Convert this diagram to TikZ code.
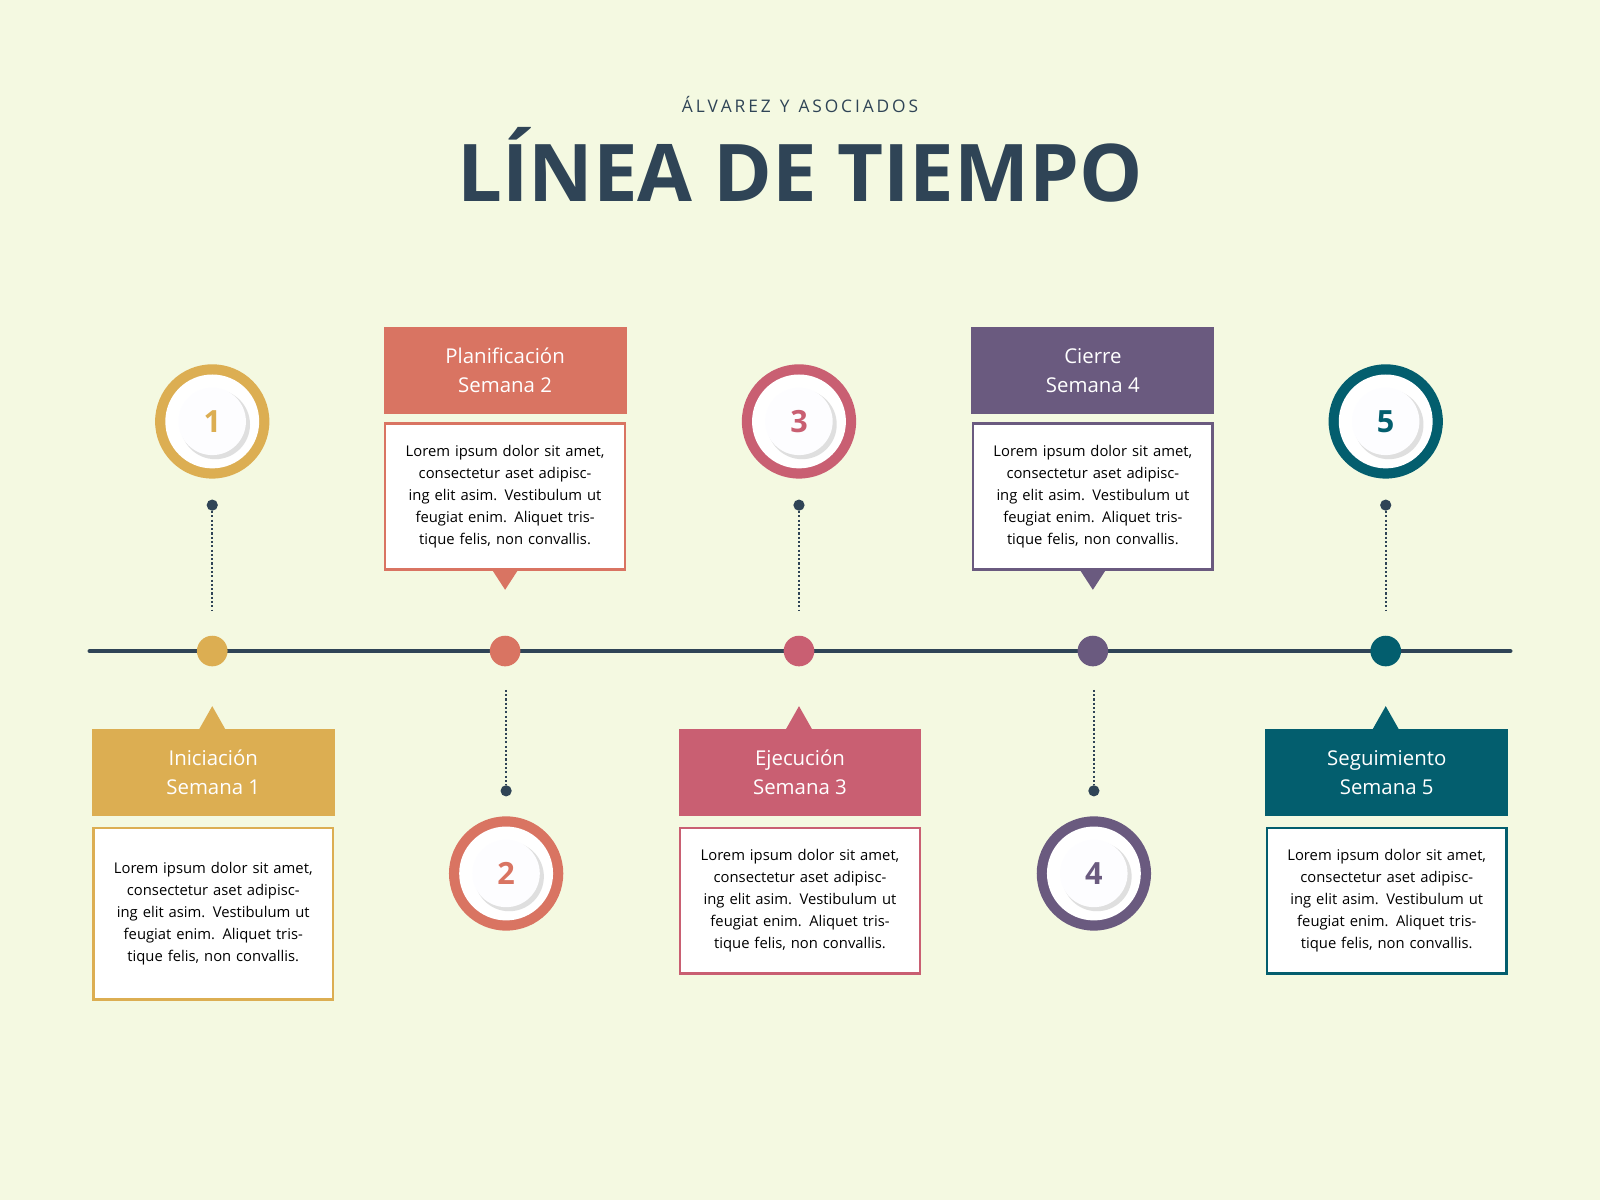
\documentclass[tikz,border=0pt]{standalone}
\usepackage{fontspec}
\setmainfont{Open Sans}
\begin{document}
\definecolor{bg}{HTML}{F4F9E1}
\definecolor{navy}{HTML}{2F4456}
\definecolor{cA}{HTML}{DCAE52}
\definecolor{cB}{HTML}{D97462}
\definecolor{cC}{HTML}{C95F72}
\definecolor{cD}{HTML}{6A5A7F}
\definecolor{cE}{HTML}{035E6E}
\begin{tikzpicture}[x=1pt,y=-1pt,
 hdr/.style={minimum width=238pt,minimum height=86pt,inner sep=0pt,text=white,align=center,font=\fontsize{20}{28}\selectfont},
 body/.style={draw=#1,line width=2.5pt,fill=white,minimum width=235pt,inner sep=0pt,align=center,font=\fontsize{14.5}{21.5}\selectfont,text width=225pt},
 tdot/.style={circle,fill=#1,minimum size=30pt,inner sep=0pt},
 sdot/.style={circle,fill=navy,minimum size=11pt,inner sep=0pt},
 conn/.style={navy,line width=2.2pt,dotted}]
\fill[bg] (0,0) rectangle (1568,1176);
\useasboundingbox (0,0) rectangle (1568,1176);
\node[font=\fontsize{17}{20}\selectfont,text=navy] (sub) at (784,102) {Á\,L\,V\,A\,R\,E\,Z\ \ Y\ \ A\,S\,O\,C\,I\,A\,D\,O\,S};
\node[font=\bfseries\fontsize{78}{80}\selectfont,text=navy] (title) at (784,162) {LÍNEA DE TIEMPO};
\coordinate (L) at (88,638); \coordinate (R) at (1480,638);
\draw[navy,line width=4.5pt,line cap=round] (L) -- (R);
\newcommand\lorem{Lorem ipsum dolor sit amet, consectetur aset adipiscing elit asim. Vestibulum ut feugiat enim. Aliquet tristique felis, non convallis.}
\newcommand\medal[4]{% name,x,y,color,num
 \fill[#3] (#1) circle (56);
 \fill[white] (#1) circle (46);
 \fill[gray!25] ($(#1)+(3,3)$) circle (34);
 \fill[white!90!blue!8] (#1) circle (33);
 \node[font=\bfseries\fontsize{30}{30}\selectfont,text=#3] at (#1) {#4};}
\usetikzlibrary{calc}
% columns
\foreach \x/\c/\n/\t/\h in {208/cA/1/Iniciación/168,783/cC/3/Ejecución/143,1358/cE/5/Seguimiento/143}{
 \coordinate (m\n) at (\x,413);
 \medal{m\n}{}{\c}{\n}
 \node[sdot] (s\n) at (\x,495) {};
 \coordinate (e\n) at (\x,598);
 \draw[conn] (s\n) -- (e\n);
 \node[tdot=\c] (d\n) at (\x,638) {};
 \fill[\c] (\x-13,715) -- (\x,692) -- (\x+13,715) -- cycle;
 \node[hdr,fill=\c] (h\n) at (\x+1,757) {\t\\Semana \n};
 \node[body=\c,minimum height=\h pt,anchor=north] (b\n) at (\x+1,810) {\lorem};
}
\foreach \x/\c/\n/\t in {495/cB/2/Planificación,1071/cD/4/Cierre}{
 \node[hdr,fill=\c] (h\n) at (\x,363) {\t\\Semana \n};
 \node[body=\c,minimum height=143pt,anchor=north] (b\n) at (\x,414) {\lorem};
 \fill[\c] (\x-13,558) -- (\x,578) -- (\x+13,558) -- cycle;
 \node[tdot=\c] (d\n) at (\x,638) {};
 \coordinate (e\n) at (\x+1,676);
 \node[sdot] (s\n) at (\x+1,775) {};
 \draw[conn] (e\n) -- (s\n);
 \coordinate (m\n) at (\x+1,856);
 \medal{m\n}{}{\c}{\n}
}
\end{tikzpicture}
\end{document}
